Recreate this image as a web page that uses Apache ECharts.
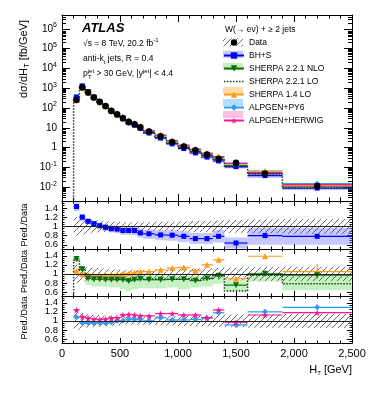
<!DOCTYPE html>
<html>
<head>
<meta charset="utf-8">
<title>W+jets HT</title>
<script src="https://cdn.jsdelivr.net/npm/echarts@6.0.0/dist/echarts.min.js"></script>
<style>
  html, body { margin: 0; padding: 0; background: #fff; }
  #chart { width: 374px; height: 396px; }
</style>
</head>
<body>
<div id="chart"></div>
<script>
// H_T bin edges [GeV]
var binEdges = [100, 150, 200, 250, 300, 350, 400, 450, 500, 550, 600, 650, 700, 800, 900, 1000, 1100, 1200, 1300, 1400, 1600, 1900, 2500];

// measured dsigma/dHT [fb/GeV]
var dataXsec = [250, 1080, 610, 340, 205, 126, 73, 48, 31, 20, 15, 10.8, 6.5, 3.7, 1.9, 1.15, 0.73, 0.45, 0.27, 0.17, 0.048, 0.0115];
// relative data uncertainty (hatched band)
var dataUnc = [0.2, 0.17, 0.15, 0.14, 0.13, 0.12, 0.11, 0.1, 0.09, 0.09, 0.09, 0.09, 0.09, 0.1, 0.1, 0.11, 0.12, 0.12, 0.13, 0.14, 0.15, 0.16];

// Pred./Data
var bhsRatio = [1.43, 1.20, 1.11, 1.06, 1.015, 0.98, 0.95, 0.94, 0.91, 0.91, 0.91, 0.86, 0.84, 0.815, 0.81, 0.785, 0.735, 0.735, 0.785, 0.64, 0.80, 0.785];
var bhsBandLo = [1.33, 1.12, 1.04, 0.98, 0.94, 0.90, 0.87, 0.85, 0.82, 0.82, 0.81, 0.76, 0.73, 0.70, 0.69, 0.66, 0.62, 0.62, 0.65, 0.52, 0.60, 0.60];
var bhsBandHi = [1.52, 1.27, 1.17, 1.12, 1.08, 1.05, 1.02, 1.01, 0.99, 0.99, 0.99, 0.95, 0.93, 0.92, 0.92, 0.90, 0.86, 0.86, 0.92, 0.76, 0.97, 0.97];

var nloRatio = [1.33, 1.10, 0.90, 0.88, 0.88, 0.87, 0.87, 0.87, 0.87, 0.84, 0.87, 0.89, 0.87, 0.87, 0.88, 0.88, 0.85, 0.90, 0.96, 0.75, 1.00, 0.97];
var nloBandLo = [1.25, 1.02, 0.75, 0.72, 0.72, 0.72, 0.70, 0.70, 0.66, 0.62, 0.66, 0.68, 0.68, 0.68, 0.70, 0.66, 0.70, 0.72, 0.78, 0.62, 0.83, 0.64];
var nloBandHi = [1.40, 1.16, 0.98, 0.97, 0.97, 0.97, 0.97, 0.97, 0.96, 0.94, 0.96, 0.97, 0.97, 0.97, 0.97, 0.95, 0.95, 0.97, 1.01, 0.86, 1.03, 0.95];
var loRatio = [1.30, 1.08, 0.92, 0.90, 0.89, 0.88, 0.88, 0.88, 0.87, 0.86, 0.87, 0.88, 0.89, 0.88, 0.88, 0.89, 0.86, 0.90, 0.96, 0.62, 0.97, 0.78];
var sh14Ratio = [1.07, 0.99, 0.98, 0.96, 0.96, 0.98, 0.98, 0.98, 1.01, 1.01, 1.03, 1.05, 1.05, 1.09, 1.13, 1.14, 1.07, 1.20, 1.31, 0.89, 1.39, 1.05];
var sh14Err = [0.03, 0.02, 0.01, 0.01, 0.01, 0.01, 0.01, 0.01, 0.01, 0.01, 0.01, 0.01, 0.01, 0.02, 0.02, 0.03, 0.03, 0.03, 0.04, 0.04, 0.05, 0.17];
var py6Ratio = [1.08, 0.96, 0.95, 0.95, 0.96, 0.95, 0.97, 1.00, 1.00, 1.03, 1.03, 1.03, 1.00, 1.07, 1.02, 1.02, 1.03, 1.06, 1.18, 0.91, 1.20, 1.30];
var herwigRatio = [1.24, 1.09, 1.06, 1.04, 1.03, 1.04, 1.06, 1.07, 1.13, 1.14, 1.13, 1.11, 1.11, 1.16, 1.16, 1.13, 1.13, 1.07, 1.24, 0.97, 1.13, 1.18];

// tick labels
var mainTicks = [0.01, 0.1, 1, 10, 100, 1e3, 1e4, 1e5, 1e6];
var ratioTicks = [0.6, 0.8, 1, 1.2, 1.4];
var ratioLabelsA = [0.6, 1, 1.4];
var ratioLabelsB = [0.8, 1.2];
var ratioMinor = [0.55, 0.6, 0.65, 0.7, 0.75, 0.8, 0.85, 0.9, 0.95, 1, 1.05, 1.1, 1.15, 1.2, 1.25, 1.3, 1.35, 1.4, 1.45, 1.5];

var font = 'Liberation Sans, Arial, Helvetica, sans-serif';
var col = {
  bhs: '#0000ff', bhsBand: 'rgba(130,130,255,0.45)',
  nlo: '#0b6e0b', nloBand: '#c6f2c2',
  lo: '#163f16',
  sh14: '#ff9a1a',
  py6: '#2b9df4',
  her: '#ff1493'
};
var star = 'path://M50,0 L61,35 L98,35 L68,57 L79,91 L50,70 L21,91 L32,57 L2,35 L39,35 Z';

var mainMinor = [];
for (var n = -3; n <= 6; n++) {
  for (var k = 2; k <= 9; k++) {
    var t = +(k * Math.pow(10, n)).toPrecision(3);
    if (t >= 0.002 && t <= 5e6) mainMinor.push(t);
  }
}

// hatch pattern for data uncertainty
var hatch = document.createElement('canvas');
hatch.width = 6; hatch.height = 6;
var hc = hatch.getContext('2d');
hc.strokeStyle = '#444'; hc.lineWidth = 0.8;
hc.beginPath();
hc.moveTo(0, 6); hc.lineTo(6, 0);
hc.moveTo(-1, 1); hc.lineTo(1, -1);
hc.moveTo(5, 7); hc.lineTo(7, 5);
hc.stroke();
var hatchFill = { image: hatch, repeat: 'repeat' };

var binMid = binEdges.slice(0, -1).map(function (e, i) { return (e + binEdges[i + 1]) / 2; });

function points(vals, scale) {
  return vals.map(function (v, i) { return [binMid[i], scale ? v * scale[i] : v]; });
}
function bins(vals, scale, err) {
  return vals.map(function (v, i) {
    var y = scale ? v * scale[i] : v, e = err ? err[i] : 0;
    return [binEdges[i], binEdges[i + 1], y, y - e, y + e];
  });
}
function band(lo, hi, scale) {
  return lo.map(function (l, i) {
    var s = scale ? scale[i] : 1;
    return [binEdges[i], binEdges[i + 1], hi[i] * s, l * s];
  });
}
function steps(vals, scale, floor) {
  var d = [[binEdges[0], floor]];
  vals.forEach(function (v, i) { d.push([binEdges[i], scale ? v * scale[i] : v]); });
  d.push([binEdges[binEdges.length - 1], d[d.length - 1][1]]);
  return d;
}

function rectItem(fill) {
  return function (params, api) {
    var a = api.coord([api.value(0), api.value(2)]);
    var b = api.coord([api.value(1), api.value(3)]);
    return { type: 'rect', shape: { x: a[0], y: a[1], width: b[0] - a[0], height: b[1] - a[1] }, style: { fill: fill } };
  };
}
function binItem(color) {
  return function (params, api) {
    var x0 = api.value(0), x1 = api.value(1), y = api.value(2);
    var a = api.coord([x0, y]), b = api.coord([x1, y]);
    var kids = [{ type: 'line', shape: { x1: a[0], y1: a[1], x2: b[0], y2: b[1] }, style: { stroke: color, lineWidth: 1.2 } }];
    if (api.value(4) > api.value(3)) {
      var xm = (x0 + x1) / 2, p = api.coord([xm, api.value(3)]), q = api.coord([xm, api.value(4)]);
      kids.push({ type: 'line', shape: { x1: p[0], y1: p[1], x2: q[0], y2: q[1] }, style: { stroke: color, lineWidth: 1.2 } });
    }
    return { type: 'group', children: kids };
  };
}

function custom(gi, data, render, z, extra) {
  var s = { type: 'custom', xAxisIndex: 2 * gi, yAxisIndex: 4 * gi, data: data, renderItem: render, silent: true, z: z };
  if (extra) for (var key in extra) s[key] = extra[key];
  return s;
}
function markers(name, gi, data, sym, size, color, rot, z) {
  return {
    type: 'line', name: name, xAxisIndex: 2 * gi, yAxisIndex: 4 * gi, data: data,
    symbol: sym, symbolSize: size, symbolRotate: rot || 0, lineStyle: { opacity: 0 },
    itemStyle: { color: color }, silent: true, z: z || 4
  };
}
function stepLine(gi, data) {
  return {
    type: 'line', name: 'SHERPA 2.2.1 LO', xAxisIndex: 2 * gi, yAxisIndex: 4 * gi, data: data, step: 'end',
    symbol: 'none', lineStyle: { color: col.lo, width: 1.5, type: 'dotted' }, silent: true, z: 3
  };
}
function dummy(name, sym, color, rot, type) {
  return {
    type: 'line', name: name, xAxisIndex: 0, yAxisIndex: 0, data: [],
    symbol: sym, symbolRotate: rot || 0,
    lineStyle: { color: color, width: 1.2, type: type || 'solid' }, itemStyle: { color: color }
  };
}
var unitLine = {
  silent: true, symbol: 'none', animation: false, label: { show: false },
  lineStyle: { color: '#222', width: 1, type: 'solid' }, data: [{ yAxis: 1 }]
};

// grids: main + three ratio panels
var grids = [
  { left: 62, top: 15, width: 290, height: 186 },
  { left: 62, top: 201, width: 290, height: 48 },
  { left: 62, top: 249, width: 290, height: 47 },
  { left: 62, top: 296, width: 290, height: 47 }
].map(function (g) { g.containLabel = false; g.outerBoundsMode = 'none'; return g; });

var xAxes = [];
grids.forEach(function (g, gi) {
  ['bottom', 'top'].forEach(function (pos) {
    xAxes.push({
      type: 'value', gridIndex: gi, position: pos, min: 0, max: 2500, interval: 500,
      axisLine: { show: true, onZero: false, lineStyle: { color: '#000', width: 1 } },
      axisTick: { show: true, inside: true, length: gi === 0 ? 7 : 5, lineStyle: { color: '#000' } },
      minorTick: { show: true, splitNumber: 5, length: gi === 0 ? 3.5 : 2.5, lineStyle: { color: '#000' } },
      axisLabel: { show: gi === 3 && pos === 'bottom', color: '#000', fontSize: 11, fontFamily: font, margin: 5 },
      splitLine: { show: false }
    });
  });
});

function logLabel(v) {
  var p = Math.round(Math.log10(v));
  if (p === 0) return '{b|1}';
  if (p === 1) return '{b|10}';
  return '{b|10}{e|' + p + '}';
}
function ratioLabel(vals) {
  return { show: true, customValues: vals, margin: 4, color: '#000', fontSize: 9.5, fontFamily: font, hideOverlap: false };
}
var yAxes = [];
grids.forEach(function (g, gi) {
  var main = gi === 0;
  var base = main
    ? { type: 'log', min: 0.002, max: 5e6, logBase: 10 }
    : { type: 'value', min: 0.51, max: 1.55 };
  ['left', 'right'].forEach(function (side) {
    [true, false].forEach(function (major) {
      var ax = { gridIndex: gi, position: side, splitLine: { show: false } };
      for (var key in base) ax[key] = base[key];
      ax.axisLine = { show: major, onZero: false, lineStyle: { color: '#000', width: 1 } };
      ax.axisTick = {
        show: true, inside: true, lineStyle: { color: '#000' },
        length: major ? (main ? 8 : 5) : (main ? 4 : 2.5),
        customValues: major ? (main ? mainTicks : ratioTicks) : (main ? mainMinor : ratioMinor)
      };
      ax.axisLabel = { show: false };
      if (side === 'left') {
        if (main && major) {
          ax.axisLabel = {
            show: true, customValues: mainTicks, formatter: logLabel, margin: 5, hideOverlap: false,
            rich: {
              b: { fontSize: 10, fontFamily: font, color: '#000', lineHeight: 14 },
              e: { fontSize: 7, fontFamily: font, color: '#000', lineHeight: 14, verticalAlign: 'top' }
            }
          };
        } else if (!main) {
          // labels split over two axes so none is dropped as overlapping
          ax.axisLabel = ratioLabel(major ? ratioLabelsA : ratioLabelsB);
        }
      }
      yAxes.push(ax);
    });
  });
});

var series = [
  dummy('Data', 'circle', '#000'),
  dummy('BH+S', 'rect', col.bhs),
  dummy('SHERPA 2.2.1 NLO', 'triangle', col.nlo, 180),
  dummy('SHERPA 2.2.1 LO', 'circle', col.lo, 0, 'dotted'),
  dummy('SHERPA 1.4 LO', 'triangle', col.sh14),
  dummy('ALPGEN+PY6', 'diamond', col.py6),
  dummy('ALPGEN+HERWIG', star, col.her),

  // main panel
  custom(0, band(bhsBandLo, bhsBandHi, dataXsec), rectItem(col.bhsBand), 1),
  stepLine(0, steps(loRatio, dataXsec, 1e-4)),
  custom(0, bins(bhsRatio, dataXsec), binItem(col.bhs), 3),
  custom(0, bins(nloRatio, dataXsec), binItem(col.nlo), 3),
  custom(0, bins(sh14Ratio, dataXsec), binItem(col.sh14), 3),
  custom(0, bins(py6Ratio, dataXsec), binItem(col.py6), 3),
  custom(0, bins(herwigRatio, dataXsec), binItem(col.her), 3),
  markers('ALPGEN+HERWIG', 0, points(herwigRatio, dataXsec), star, 7, col.her),
  markers('ALPGEN+PY6', 0, points(py6Ratio, dataXsec), 'diamond', 6, col.py6),
  markers('SHERPA 1.4 LO', 0, points(sh14Ratio, dataXsec), 'triangle', 6, col.sh14),
  markers('SHERPA 2.2.1 NLO', 0, points(nloRatio, dataXsec), 'triangle', 6, col.nlo, 180),
  markers('BH+S', 0, points(bhsRatio, dataXsec), 'rect', 5, col.bhs),
  markers('Data', 0, points(dataXsec), 'circle', 6.5, '#000', 0, 5),

  // ratio 1: BH+S
  custom(1, band(bhsBandLo, bhsBandHi), rectItem(col.bhsBand), 1),
  custom(1, band(dataUnc.map(function (u) { return 1 - u; }), dataUnc.map(function (u) { return 1 + u; })), rectItem(hatchFill), 2, { markLine: unitLine }),
  custom(1, bins(bhsRatio), binItem(col.bhs), 3),
  markers('BH+S', 1, points(bhsRatio), 'rect', 5, col.bhs),

  // ratio 2: SHERPA
  custom(2, band(nloBandLo, nloBandHi), rectItem(col.nloBand), 1),
  custom(2, band(dataUnc.map(function (u) { return 1 - u; }), dataUnc.map(function (u) { return 1 + u; })), rectItem(hatchFill), 2, { markLine: unitLine }),
  stepLine(2, steps(loRatio, null, 0.3)),
  custom(2, bins(sh14Ratio, null, sh14Err), binItem(col.sh14), 3),
  custom(2, bins(nloRatio), binItem(col.nlo), 3),
  markers('SHERPA 1.4 LO', 2, points(sh14Ratio), 'triangle', 6, col.sh14),
  markers('SHERPA 2.2.1 NLO', 2, points(nloRatio), 'triangle', 6, col.nlo, 180),

  // ratio 3: ALPGEN
  custom(3, band(dataUnc.map(function (u) { return 1 - u; }), dataUnc.map(function (u) { return 1 + u; })), rectItem(hatchFill), 2, { markLine: unitLine }),
  custom(3, bins(py6Ratio), binItem(col.py6), 3),
  custom(3, bins(herwigRatio), binItem(col.her), 3),
  markers('ALPGEN+PY6', 3, points(py6Ratio), 'diamond', 6, col.py6),
  markers('ALPGEN+HERWIG', 3, points(herwigRatio), star, 7, col.her)
];

var supSub = {
  sp: { fontSize: 6, fontFamily: font, fill: '#000', lineHeight: 12, verticalAlign: 'top' },
  sb: { fontSize: 6, fontFamily: font, fill: '#000', lineHeight: 12, verticalAlign: 'bottom' }
};
function txt(x, y, text, size, extra) {
  var st = { text: text, fontSize: size, fontFamily: font, fill: '#000', verticalAlign: 'middle', align: 'left', lineHeight: 12, rich: supSub };
  var el = { type: 'text', x: x, y: y, silent: true, style: st, z: 10 };
  if (extra) for (var key in extra) st[key] = extra[key];
  return el;
}
var legendBands = [
  { y: 54.3, fill: col.bhsBand },
  { y: 66.5, fill: col.nloBand },
  { y: 90.5, fill: '#ffdca8' },
  { y: 102.5, fill: '#b4dcff' },
  { y: 114.5, fill: '#ffbfe0' }
];
var graphics = [
  txt(82, 28, 'ATLAS', 13, { fontWeight: 'bold', fontStyle: 'italic' }),
  txt(83, 43.5, '√s = 8 TeV, 20.2 fb{sp|-1}', 8.5),
  txt(83, 59, 'anti-k{sb|t} jets, R = 0.4', 8.5),
  txt(83, 74, 'p{sp|jet} > 30 GeV, |y{sp|jet}| < 4.4', 8.5),
  txt(88, 77.5, 'T', 6),
  txt(225, 29.5, 'W(→ eν) + ≥ 2 jets', 8.5),
  txt(352, 370, 'H{sb|T} [GeV]', 11, { align: 'right' }),
  { type: 'text', x: 24, y: 59, rotation: Math.PI / 2, silent: true,
    style: { text: 'dσ/dH{sb|T} [fb/GeV]', fontSize: 11, fontFamily: font, fill: '#000', align: 'center', verticalAlign: 'middle', lineHeight: 14,
      rich: { sb: { fontSize: 7.5, fontFamily: font, fill: '#000', lineHeight: 14, verticalAlign: 'bottom' } } } },
  { type: 'rect', shape: { x: 223, y: 38.3, width: 20, height: 8 }, style: { fill: hatchFill }, silent: true, z: -1 }
];
[225, 271.5, 318].forEach(function (y) {
  graphics.push({ type: 'text', x: 25, y: y, rotation: Math.PI / 2, silent: true,
    style: { text: 'Pred./Data', fontSize: 9, fontFamily: font, fill: '#000', align: 'center', verticalAlign: 'middle' } });
});
legendBands.forEach(function (b) {
  graphics.push({ type: 'rect', shape: { x: 223, y: b.y - 3.5, width: 20, height: 7 }, style: { fill: b.fill }, silent: true, z: -1 });
});

var option = {
  animation: false,
  backgroundColor: '#fff',
  grid: grids,
  xAxis: xAxes,
  yAxis: yAxes,
  legend: {
    orient: 'vertical', left: 223, top: 38, padding: 0, itemWidth: 20, itemHeight: 8, itemGap: 4,
    selectedMode: false,
    textStyle: { fontSize: 8.5, fontFamily: font, color: '#000', lineHeight: 8 },
    data: [
      { name: 'Data', lineStyle: { opacity: 0 } },
      { name: 'BH+S' },
      { name: 'SHERPA 2.2.1 NLO' },
      { name: 'SHERPA 2.2.1 LO', itemStyle: { opacity: 0 }, lineStyle: { type: 'dotted', width: 1.5 } },
      { name: 'SHERPA 1.4 LO' },
      { name: 'ALPGEN+PY6' },
      { name: 'ALPGEN+HERWIG' }
    ]
  },
  graphic: graphics,
  series: series
};

var myChart = echarts.init(document.getElementById('chart'), null, { renderer: 'canvas' });
myChart.setOption(option);
</script>
</body>
</html>
